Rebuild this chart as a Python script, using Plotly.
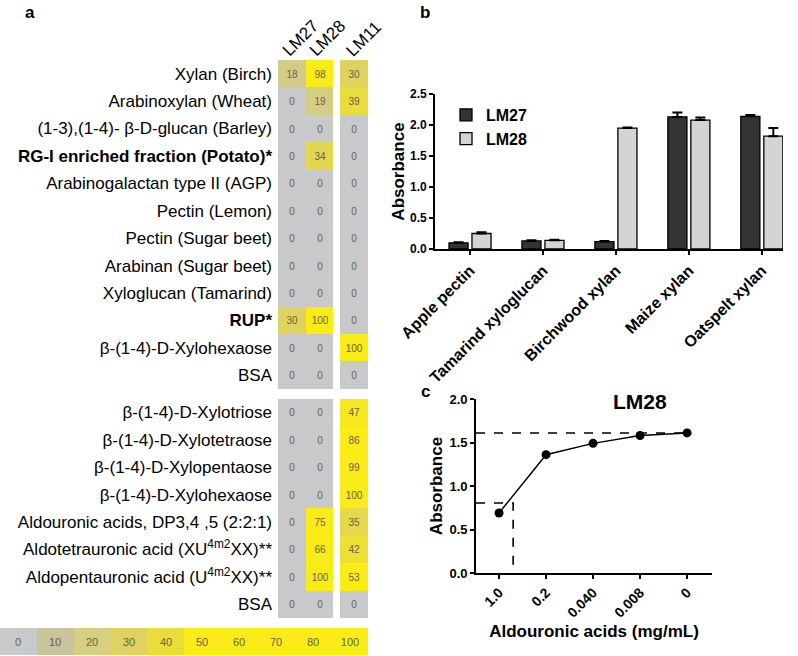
import plotly.graph_objects as go

FONT = "Arial, 'Liberation Sans', sans-serif"
W, H = 798, 656

# === panel a: epitope heatmap ===
antibodies = ["LM27", "LM28", "LM11"]
rows_top = [
    "Xylan (Birch)", "Arabinoxylan (Wheat)", "(1-3),(1-4)- β-D-glucan (Barley)",
    "<b>RG-I enriched fraction (Potato)*</b>", "Arabinogalactan type II (AGP)",
    "Pectin (Lemon)", "Pectin (Sugar beet)", "Arabinan (Sugar beet)",
    "Xyloglucan (Tamarind)", "<b>RUP*</b>", "β-(1-4)-D-Xylohexaose", "BSA",
]
rows_bottom = [
    "β-(1-4)-D-Xylotriose", "β-(1-4)-D-Xylotetraose", "β-(1-4)-D-Xylopentaose",
    "β-(1-4)-D-Xylohexaose", "Aldouronic acids, DP3,4 ,5 (2:2:1)",
    "Aldotetrauronic acid (XU<sup>4m2</sup>XX)**",
    "Aldopentauronic acid (U<sup>4m2</sup>XX)**", "BSA",
]
lm27_top = [18, 0, 0, 0, 0, 0, 0, 0, 0, 30, 0, 0]
lm28_top = [98, 19, 0, 34, 0, 0, 0, 0, 0, 100, 0, 0]
lm11_top = [30, 39, 0, 0, 0, 0, 0, 0, 0, 0, 100, 0]
lm27_bottom = [0, 0, 0, 0, 0, 0, 0, 0]
lm28_bottom = [0, 0, 0, 0, 75, 66, 100, 0]
lm11_bottom = [47, 86, 99, 100, 35, 42, 53, 0]
scale_values = [0, 10, 20, 30, 40, 50, 60, 70, 80, 100]

# === panel b: bars ===
polysaccharides = ["Apple pectin", "Tamarind xyloglucan", "Birchwood xylan", "Maize xylan", "Oatspelt xylan"]
b_lm27 = [0.10, 0.13, 0.12, 2.13, 2.14]
b_lm27_err = [0.01, 0.01, 0.01, 0.07, 0.02]
b_lm28 = [0.25, 0.14, 1.95, 2.08, 1.82]
b_lm28_err = [0.02, 0.01, 0.01, 0.04, 0.13]

# === panel c: inhibition curve ===
conc_labels = ["1.0", "0.2", "0.040", "0.008", "0"]
c_absorbance = [0.69, 1.36, 1.49, 1.58, 1.61]
ic50_pos = 0.3   # where the half-max line meets the curve (category units)

COLORSCALE = [
    [0.0, "#C8C9CB"], [0.1, "#C9C49C"], [0.2, "#D6CE80"], [0.3, "#DFD35F"],
    [0.4, "#EADD3B"], [0.5, "#FBEB16"], [1.0, "#FBEB16"],
]

# build heatmap grid with an empty row / column as the visual gaps
cols_top = [lm27_top, lm28_top, lm11_top]
cols_bottom = [lm27_bottom, lm28_bottom, lm11_bottom]
z, txt = [], []
for i in range(len(rows_top)):
    vals = [cols_top[0][i], cols_top[1][i], None, cols_top[2][i]]
    z.append(vals)
    txt.append(["" if v is None else str(v) for v in vals])
z.append([None] * 4)
txt.append([""] * 4)
for i in range(len(rows_bottom)):
    vals = [cols_bottom[0][i], cols_bottom[1][i], None, cols_bottom[2][i]]
    z.append(vals)
    txt.append(["" if v is None else str(v) for v in vals])

GAP_Y = 0.36
y_edges = list(range(len(rows_top) + 1)) + [len(rows_top) + GAP_Y + k for k in range(len(rows_bottom) + 1)]
x_edges = [0, 1, 2, 2.25, 3.25]
tickvals = [i + 0.5 for i in range(len(rows_top))] + [len(rows_top) + GAP_Y + j + 0.5 for j in range(len(rows_bottom))]

fig = go.Figure()

fig.add_trace(go.Heatmap(
    z=z, x=x_edges, y=y_edges, text=txt, texttemplate="%{text}",
    textfont=dict(size=10, color="#66624c", family=FONT),
    colorscale=COLORSCALE, zmin=0, zmax=100, showscale=False,
    hoverongaps=False, xaxis="x", yaxis="y",
))

fig.add_trace(go.Heatmap(
    z=[scale_values], x=list(range(len(scale_values) + 1)), y=[0, 1],
    text=[[str(v) for v in scale_values]], texttemplate="%{text}",
    textfont=dict(size=11, color="#66624c", family=FONT),
    colorscale=COLORSCALE, zmin=0, zmax=100, showscale=False,
    xaxis="x2", yaxis="y2",
))

bar_line = dict(color="black", width=1.3)
fig.add_trace(go.Bar(
    x=polysaccharides, y=b_lm27, name="LM27",
    marker=dict(color="#333333", line=bar_line),
    error_y=dict(type="data", array=b_lm27_err, arrayminus=[0] * 5, symmetric=False,
                 color="black", thickness=2, width=5),
    xaxis="x3", yaxis="y3",
))
fig.add_trace(go.Bar(
    x=polysaccharides, y=b_lm28, name="LM28",
    marker=dict(color="#D4D4D4", line=bar_line),
    error_y=dict(type="data", array=b_lm28_err, arrayminus=[0] * 5, symmetric=False,
                 color="black", thickness=2, width=5),
    xaxis="x3", yaxis="y3",
))

xpos = list(range(len(conc_labels)))
C_XMIN = -0.49
top = max(c_absorbance)
half = top / 2
fig.add_trace(go.Scatter(
    x=[C_XMIN, xpos[-1]], y=[top, top], mode="lines",
    line=dict(color="black", width=1.6, dash="dash"), showlegend=False,
    cliponaxis=False, xaxis="x4", yaxis="y4",
))
fig.add_trace(go.Scatter(
    x=[C_XMIN, ic50_pos, ic50_pos], y=[half, half, 0], mode="lines",
    line=dict(color="black", width=1.6, dash="dash"), showlegend=False,
    cliponaxis=False, xaxis="x4", yaxis="y4",
))
fig.add_trace(go.Scatter(
    x=xpos, y=c_absorbance, mode="lines+markers",
    line=dict(color="black", width=1.5), marker=dict(color="black", size=9),
    showlegend=False, cliponaxis=False, xaxis="x4", yaxis="y4",
))


def px_x(a, b):
    return [a / W, b / W]


def px_y(top_px, bottom_px):
    return [1 - bottom_px / H, 1 - top_px / H]


axis_common = dict(showline=True, linecolor="black", linewidth=1.8, ticks="outside",
                   tickcolor="black", tickwidth=1.5, ticklen=4, showgrid=False,
                   zeroline=False, automargin=False)
plain = dict(showgrid=False, zeroline=False, automargin=False)

fig.update_layout(
    width=W, height=H, autosize=False,
    margin=dict(l=0, r=0, t=0, b=0, autoexpand=False),
    paper_bgcolor="white", plot_bgcolor="rgba(0,0,0,0)",
    font=dict(family=FONT, color="black"),
    barmode="group", bargap=0.37, bargroupgap=0.17,
    showlegend=True,
    legend=dict(x=446 / W, y=1 - 98 / H, xanchor="left", yanchor="top",
                font=dict(size=16, weight="bold", family=FONT),
                bgcolor="rgba(0,0,0,0)", tracegroupgap=2),
    xaxis=dict(domain=px_x(278, 368), range=[0, 3.25], showticklabels=False, **plain),
    yaxis=dict(domain=px_y(60, 618), range=[y_edges[-1], 0], tickmode="array",
               tickvals=tickvals, ticktext=rows_top + rows_bottom, ticks="",
               tickfont=dict(size=17, family=FONT), ticklabelstandoff=5, **plain),
    xaxis2=dict(domain=px_x(0, 368), range=[0, len(scale_values)], showticklabels=False,
                anchor="y2", **plain),
    yaxis2=dict(domain=px_y(628, 655), range=[0, 1], showticklabels=False,
                anchor="x2", **plain),
    xaxis3=dict(domain=px_x(435, 783), anchor="y3", type="category", range=[-0.48, 4.29],
                tickangle=-45, tickfont=dict(size=16, weight="bold"), **axis_common),
    yaxis3=dict(domain=px_y(94, 249), anchor="x3", range=[0, 2.5], dtick=0.5,
                tickformat=".1f", tickfont=dict(size=12, weight="bold"),
                title=dict(text="<b>Absorbance</b>", font=dict(size=17), standoff=1),
                **axis_common),
    xaxis4=dict(domain=px_x(476, 712), anchor="y4", range=[C_XMIN, 4.53],
                tickmode="array", tickvals=xpos, ticktext=conc_labels, tickangle=-45,
                tickfont=dict(size=14, weight="bold"),
                title=dict(text="<b>Aldouronic acids (mg/mL)</b>", font=dict(size=17), standoff=6),
                **axis_common),
    yaxis4=dict(domain=px_y(399, 573), anchor="x4", range=[0, 2.0], dtick=0.5,
                tickformat=".1f", tickfont=dict(size=13, weight="bold"),
                title=dict(text="<b>Absorbance</b>", font=dict(size=17), standoff=2),
                **axis_common),
)

# column headers for the heatmap
for name, cx, cy in zip(antibodies, [300, 327, 363], [38, 38, 39]):
    fig.add_annotation(x=cx / W, y=1 - cy / H, xref="paper", yref="paper",
                       text=name, textangle=-45, showarrow=False,
                       font=dict(size=17, family=FONT), xanchor="center", yanchor="middle")

# panel letters and panel c title
for letter, lx, ly in [("a", 30, 12), ("b", 425, 12), ("c", 425, 391)]:
    fig.add_annotation(x=lx / W, y=1 - ly / H, xref="paper", yref="paper",
                       text=f"<b>{letter}</b>", showarrow=False,
                       font=dict(size=17, family=FONT), xanchor="center", yanchor="middle")
fig.add_annotation(x=640 / W, y=1 - 401 / H, xref="paper", yref="paper",
                   text="<b>LM28</b>", showarrow=False,
                   font=dict(size=21, family=FONT), xanchor="center", yanchor="middle")

fig.write_html("out.html", config={"displayModeBar": False},
               post_script="document.body.style.margin='0px';")
